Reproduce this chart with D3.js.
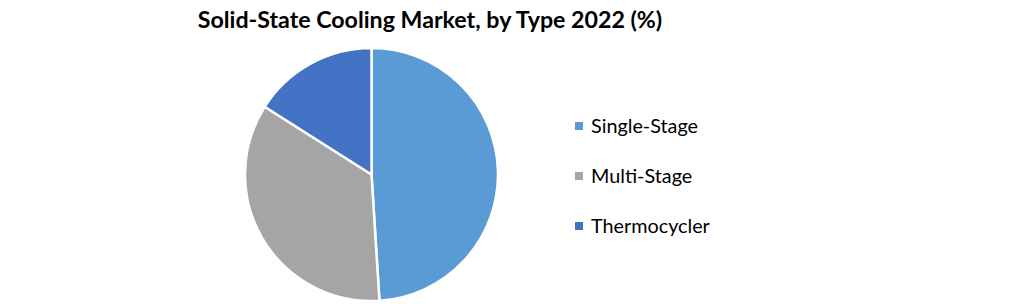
<!DOCTYPE html>
<html><head><meta charset="utf-8">
<script src="https://cdn.jsdelivr.net/npm/d3@7"></script>
<style>body{margin:0;background:#fff}svg{display:block}</style>
</head><body>
<svg id="c" width="1021" height="304"></svg>
<script>
const categories = ["Single-Stage", "Multi-Stage", "Thermocycler"];
const values = [49, 35, 16];
const colors = ["#5B9BD5", "#A5A5A5", "#4472C4"];
const title = "Solid-State Cooling Market, by Type 2022 (%)";

const svg = d3.select("#c");
const cx = 371.5, cy = 174.5, R = 126.5;

svg.append("text").attr("x", 430).attr("y", 28).attr("text-anchor", "middle")
  .attr("font-family", "Lato, 'Open Sans', sans-serif").attr("font-weight", "bold")
  .attr("font-size", 23.2).attr("fill", "#000").text(title);

const pie = d3.pie().sort(null).value(d => d)(values);
const arc = d3.arc().innerRadius(0).outerRadius(R);
const color = d3.scaleOrdinal().domain(categories).range(colors);

svg.append("g").attr("transform", `translate(${cx},${cy})`)
  .selectAll("path").data(pie).join("path")
  .attr("d", arc).attr("fill", (d, i) => color(categories[i]))
  .attr("stroke", "#fff").attr("stroke-width", 2.5).attr("stroke-linejoin", "round");

const y = d3.scalePoint().domain(categories).range([126, 226]);
const lg = svg.append("g");
lg.selectAll("rect").data(categories).join("rect")
  .attr("x", 575).attr("y", d => y(d) - 4).attr("width", 8).attr("height", 8)
  .attr("fill", d => color(d));
lg.selectAll("text").data(categories).join("text")
  .attr("x", 591).attr("y", d => y(d) + 7)
  .attr("font-family", "Lato, 'Open Sans', sans-serif").attr("font-size", 19.8)
  .attr("fill", "#000").text(d => d);
</script>
</body></html>
